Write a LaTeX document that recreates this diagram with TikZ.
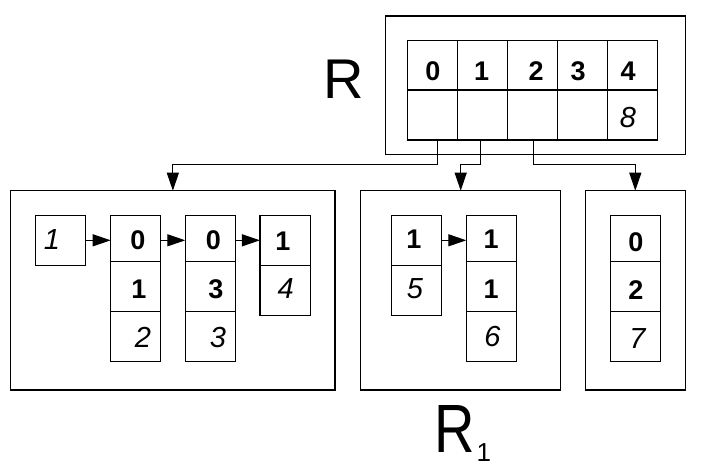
\documentclass[tikz,border=0pt]{standalone}
\usepackage{fontspec}
\setmainfont{Liberation Sans}
\usetikzlibrary{arrows.meta}
\begin{document}
\begin{tikzpicture}[x=1pt,y=-1pt,
  frame/.style={draw, line width=1.3pt, inner sep=0pt, outer sep=0pt},
  cell/.style={draw, line width=1.2pt, inner sep=0pt, outer sep=0pt, minimum width=50pt},
  bd/.style={inner sep=0pt, font=\fontsize{27}{27}\selectfont\bfseries},
  it/.style={inner sep=0pt, font=\fontsize{29}{29}\selectfont\itshape},
  big/.style={inner sep=0pt, anchor=base west, font=\fontsize{56}{56}\selectfont},
  arr/.style={line width=1.2pt, -{Triangle[length=18pt,width=12pt]}},
]
\useasboundingbox (0,0) rectangle (711,474);

% frames
\node[frame, minimum width=300pt, minimum height=138.3pt] (top) at (535.3,85.15) {};
\node[frame, minimum width=324.3pt, minimum height=199.3pt] (lbox) at (172.85,290.35) {};
\node[frame, minimum width=200pt, minimum height=199.3pt] (mbox) at (460.7,290.35) {};
\node[frame, minimum width=100pt, minimum height=199.3pt] (rbox) at (635.3,290.35) {};

% top table
\foreach \i/\x in {0/432.3,1/482.3,2/532.3,3/582.3,4/632.3}{
  \node[cell, minimum height=49.3pt] (ta\i) at (\x,65.35) {};
  \node[cell, minimum height=50pt] (tb\i) at (\x,115) {};
}
\node[bd] (l0) at (433,70.8) {0};
\node[bd] (l1) at (481.7,70.8) {1};
\node[bd] (l2) at (536,70.8) {2};
\node[bd] (l3) at (578,70.8) {3};
\node[bd] (l4) at (628,70.8) {4};
\node[it] (l8) at (628,117.5) {8};

% left group
\node[cell, minimum height=50pt] (b1) at (60.3,240.3) {};
\node[cell, minimum height=46pt] (c1a) at (135.7,238.3) {};
\node[cell, minimum height=50pt] (c1b) at (135.7,286.3) {};
\node[cell, minimum height=50pt] (c1c) at (135.7,336.3) {};
\node[cell, minimum height=46pt] (c2a) at (210.3,238.3) {};
\node[cell, minimum height=50pt] (c2b) at (210.3,286.3) {};
\node[cell, minimum height=50pt] (c2c) at (210.3,336.3) {};
\node[cell, minimum height=50pt, minimum width=50.7pt] (c3a) at (285.3,240.3) {};
\node[cell, minimum height=50pt, minimum width=50.7pt] (c3b) at (285.3,290.3) {};

\node[it] (xb1) at (52,240) {1};
\node[bd] (x1a) at (138,240.5) {0};
\node[bd] (x1b) at (139,289.5) {1};
\node[it] (x1c) at (143,337.5) {2};
\node[bd] (x2a) at (213.3,240.5) {0};
\node[bd] (x2b) at (216,289.5) {3};
\node[it] (x2c) at (218,337.5) {3};
\node[bd] (x3a) at (283,241) {1};
\node[it] (x3b) at (285.7,289) {4};

% middle group
\node[cell, minimum height=50pt] (ma) at (416.3,240.3) {};
\node[cell, minimum height=50pt] (mb) at (416.3,290.3) {};
\node[cell, minimum height=46pt] (na) at (491.3,238.3) {};
\node[cell, minimum height=50pt] (nb) at (491.3,286.3) {};
\node[cell, minimum height=50pt] (nc) at (491.3,336.3) {};
\node[bd] (ym) at (414,239.5) {1};
\node[it] (ym2) at (415,288.3) {5};
\node[bd] (yn1) at (491,239.5) {1};
\node[bd] (yn2) at (491,289.5) {1};
\node[it] (yn3) at (492.5,336.7) {6};

% right group
\node[cell, minimum height=46pt] (ra) at (635.3,238.3) {};
\node[cell, minimum height=50pt] (rb) at (635.3,286.3) {};
\node[cell, minimum height=50pt] (rc) at (635.3,336.3) {};
\node[bd] (z1) at (635.8,241.7) {0};
\node[bd] (z2) at (635.8,290.3) {2};
\node[it] (z3) at (637.5,338.3) {7};

% arrows inside
\draw[arr] (b1.east) -- (c1a.west |- b1.east);
\draw[arr] (c1a.east |- b1.east) -- (c2a.west |- b1.east);
\draw[arr] (c2a.east |- b1.east) -- (c3a.west);
\draw[arr] (ma.east) -- (na.west |- ma.east);

% connectors from the table
\coordinate (s0) at (437.7,140);
\coordinate (s1) at (480.3,140);
\coordinate (s2) at (533.3,140);
\draw[arr] (s0) -- ++(0,24.3) -| (lbox.north);
\draw[arr] (s1) -- ++(0,24.3) -| (mbox.north);
\draw[arr] (s2) -- ++(0,24.3) -| (rbox.north);

% big labels
\node[big] (R) at (322.9,98.3) {R};
\node[big] (R1) at (434.6,452.7) {\scalebox{1}[1.22]{R}\kern1.5pt\raisebox{-9pt}{\fontsize{26}{26}\selectfont 1}};
\end{tikzpicture}
\end{document}
